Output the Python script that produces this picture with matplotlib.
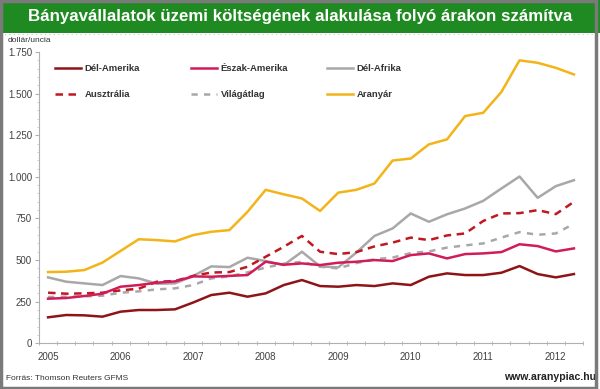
import matplotlib
matplotlib.use("Agg")
import matplotlib.pyplot as plt
from matplotlib.patches import Rectangle
from matplotlib.lines import Line2D

# quarterly data, 2005 Q1 .. 2012 Q2 (dollár/uncia)
years = ["2005", "2006", "2007", "2008", "2009", "2010", "2011", "2012"]

del_amerika = [156, 170, 168, 160, 190, 200, 200, 204, 245, 290, 304, 280, 300, 350, 380,
               344, 340, 350, 344, 360, 350, 400, 420, 410, 410, 424, 464, 416, 396, 416]
eszak_amerika = [268, 272, 284, 298, 340, 350, 364, 372, 402, 400, 405, 410, 490, 472, 480,
                 470, 484, 490, 500, 494, 530, 540, 510, 536, 540, 548, 595, 584, 552, 570]
del_afrika = [396, 370, 360, 350, 404, 390, 358, 360, 404, 462, 458, 514, 494, 470, 550,
              462, 456, 545, 645, 690, 780, 730, 775, 810, 856, 930, 1002, 874, 944, 980]
ausztralia = [304, 298, 300, 304, 318, 328, 370, 374, 405, 425, 428, 460, 520, 580, 645,
              550, 536, 548, 582, 605, 635, 620, 648, 660, 735, 780, 782, 800, 776, 850]
vilagatlag = [278, 280, 282, 286, 304, 312, 324, 330, 350, 390, 402, 426, 455, 478, 490,
              460, 450, 482, 505, 515, 542, 552, 575, 588, 600, 635, 668, 652, 660, 718]
aranyar = [428, 430, 440, 485, 555, 625, 620, 612, 650, 670, 680, 790, 922, 895, 870,
           795, 905, 922, 960, 1098, 1110, 1195, 1225, 1365, 1385, 1510, 1700, 1685, 1655, 1615]

yticks = [0, 250, 500, 750, 1000, 1250, 1500, 1750]
ylabels = ["0", "250", "500", "750", "1.000", "1.250", "1.500", "1.750"]

x = list(range(len(aranyar)))

fig = plt.figure(figsize=(6, 3.89), dpi=100)
W, H = 600, 389

# title band
fig.patches.append(Rectangle((0, 1 - 33 / H), 1, 33 / H, transform=fig.transFigure,
                             facecolor="#1f8a22", edgecolor="none", zorder=0))
fig.text(0.5, 1 - 17 / H, "Bányavállalatok üzemi költségének alakulása folyó árakon számítva",
         ha="center", va="center", color="white", fontsize=12.2, fontweight="bold",
         family="Liberation Sans")
fig.add_artist(Line2D([0, 1], [1 - 34 / H, 1 - 34 / H], transform=fig.transFigure,
                      color="#c8c8c8", lw=0.8, ls=(0, (1, 3))))
# outer frame
fig.patches.append(Rectangle((0.002, 0.003), 0.992, 0.994, transform=fig.transFigure,
                             facecolor="none", edgecolor="#7a7a7a", lw=2.5, zorder=10))

ax = fig.add_axes([39 / W, 1 - 343.3 / H, (583 - 39) / W, (343.3 - 52) / H])

ax.plot(x, aranyar, color="#f2b418", lw=1.8, label="Aranyár")
ax.plot(x, del_afrika, color="#a8a8a8", lw=1.8, label="Dél-Afrika")
ax.plot(x, ausztralia, color="#c01820", lw=1.8, ls=(0, (3, 2.2)), label="Ausztrália")
ax.plot(x, vilagatlag, color="#a8a8a8", lw=1.8, ls=(0, (2.5, 2.5)), label="Világátlag")
ax.plot(x, eszak_amerika, color="#d01c5a", lw=1.8, label="Észak-Amerika")
ax.plot(x, del_amerika, color="#8e1418", lw=1.8, label="Dél-Amerika")

ax.set_xlim(-0.5, len(x) - 0.5)
ax.set_ylim(0, 1750)
ax.set_yticks(yticks)
ax.set_yticklabels(ylabels)
ax.set_yticks(range(0, 1751, 50), minor=True)
ax.set_xticks(range(0, len(x), 4))
ax.set_xticklabels(years)
ax.set_xticks([i - 0.5 for i in range(len(x) + 1)], minor=True)

for s in ["top", "right"]:
    ax.spines[s].set_visible(False)
for s in ["left", "bottom"]:
    ax.spines[s].set_color("#b0b0b0")
    ax.spines[s].set_linewidth(0.8)
ax.tick_params(axis="y", which="major", length=3, color="#b0b0b0", labelsize=7,
               labelcolor="#404040", pad=2)
ax.tick_params(axis="y", which="minor", length=1.5, color="#c8c8c8")
ax.tick_params(axis="x", which="major", length=0, labelsize=7, labelcolor="#404040", pad=6)
ax.tick_params(axis="x", which="minor", length=3, direction="inout", color="#b0b0b0")
for lab in ax.get_xticklabels() + ax.get_yticklabels():
    lab.set_family("Liberation Sans")

fig.text(8 / W, 1 - 40 / H, "dollár/uncia", fontsize=6, color="#303030",
         va="center", family="Liberation Sans")

# legend in three columns
handles = {l.get_label(): l for l in ax.get_lines()}
cols = [(55, ["Dél-Amerika", "Ausztrália"]),
        (191, ["Észak-Amerika", "Világátlag"]),
        (327, ["Dél-Afrika", "Aranyár"])]
for cx, names in cols:
    leg = fig.legend([handles[n] for n in names], names, loc="upper left",
                     bbox_to_anchor=(cx / W, 1 - 64 / H), frameon=False,
                     borderpad=0, borderaxespad=0, handlelength=2.7, handletextpad=0.45,
                     labelspacing=1.85, prop={"family": "Liberation Sans", "weight": "bold",
                                              "size": 6.8})
    for t in leg.get_texts():
        t.set_color("#333333")

fig.text(6 / W, 1 - 379 / H, "Forrás: Thomson Reuters GFMS", fontsize=6, color="#333333",
         va="center", family="Liberation Sans")
fig.text(596 / W, 1 - 377 / H, "www.aranypiac.hu", fontsize=7.6, color="#222222",
         fontweight="bold", ha="right", va="center", family="Liberation Sans")

fig.savefig("out.png", dpi=100)
